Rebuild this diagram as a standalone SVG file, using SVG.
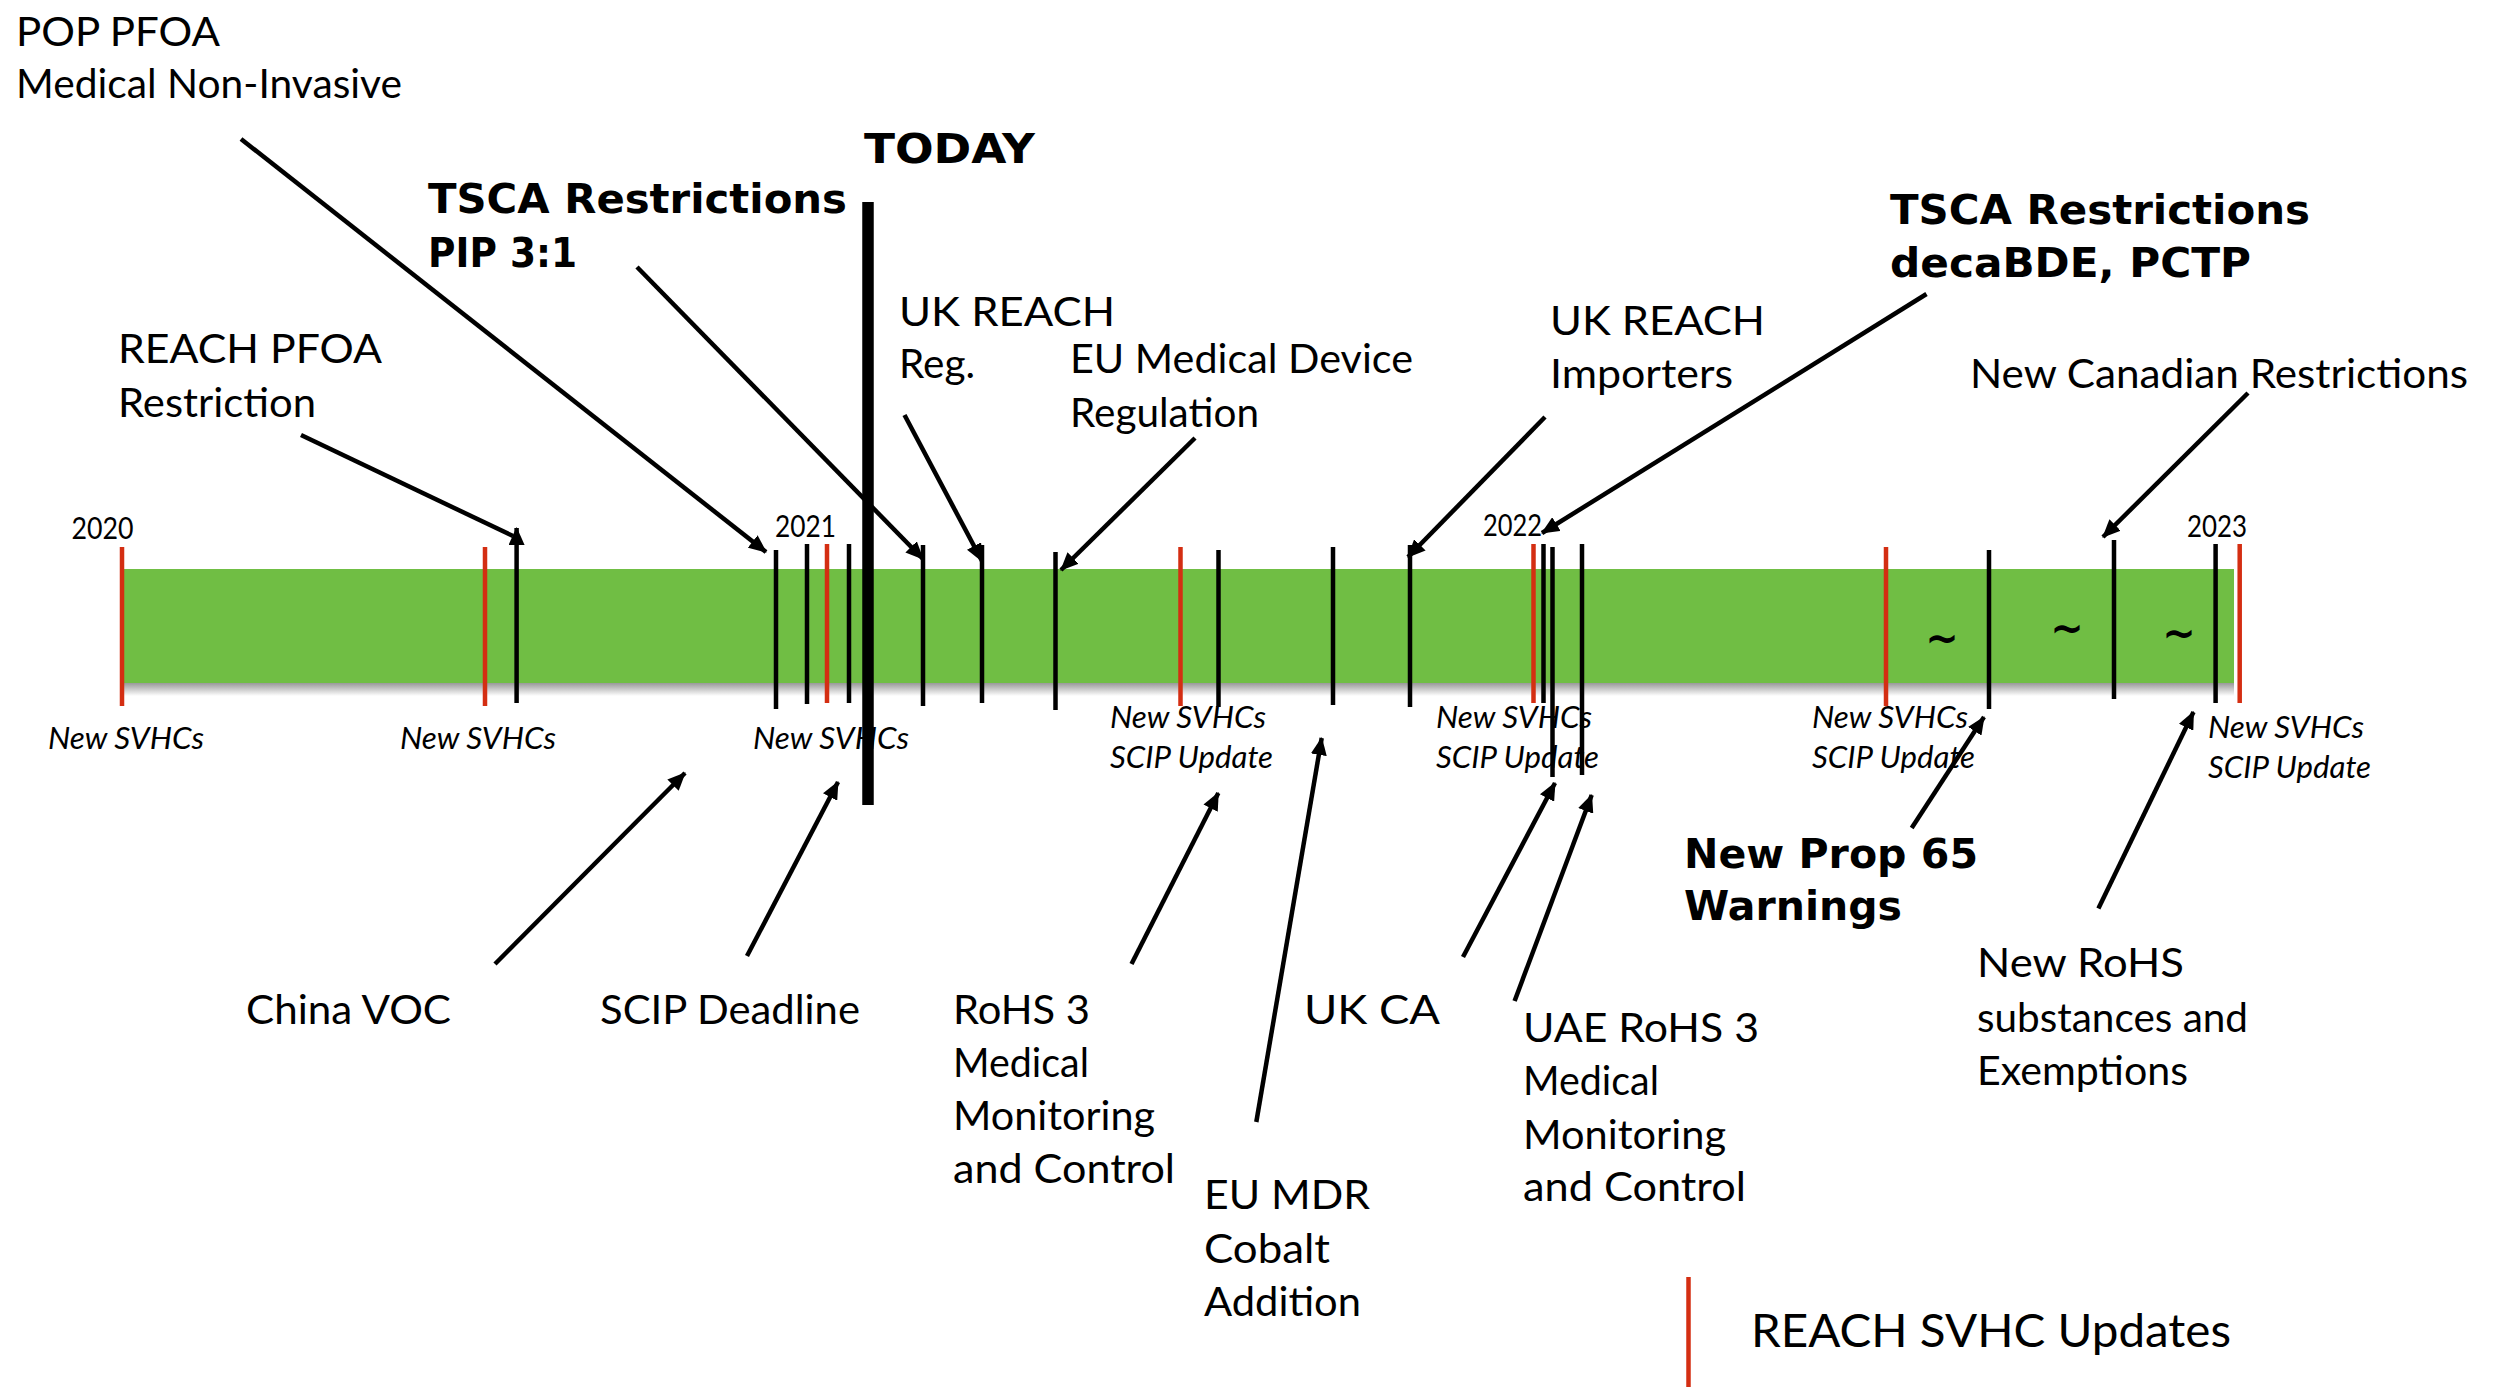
<svg xmlns="http://www.w3.org/2000/svg" width="2498" height="1387" viewBox="0 0 2498 1387">
<defs>
<style>
.lbl{font-family:Lato,'Liberation Sans',sans-serif;font-size:41px;fill:#000}
.bold{font-family:'DejaVu Sans','Liberation Sans',sans-serif;font-weight:bold;font-size:40px;fill:#000}
.yr{font-family:Lato,'Liberation Sans',sans-serif;font-size:30px;fill:#000}
.it{font-family:Lato,'Liberation Sans',sans-serif;font-style:italic;font-size:31px;fill:#000}
.tl{font-family:'DejaVu Sans','Liberation Sans',sans-serif;font-weight:bold;font-size:40px;fill:#000;text-anchor:middle}
.tick{stroke:#000;stroke-width:4.5;fill:none}
.red{stroke:#D42E12;stroke-width:4.5;fill:none}
.arr{stroke:#000;stroke-width:4.5;fill:none;marker-end:url(#ah)}
.ln{stroke:#000;stroke-width:4.5;fill:none}
</style>
<marker id="ah" markerUnits="userSpaceOnUse" markerWidth="18" markerHeight="16" refX="17" refY="8" orient="auto">
<path d="M0,0 L18,8 L0,16 z" fill="#000"/>
</marker>
<linearGradient id="shd" x1="0" y1="0" x2="0" y2="1">
<stop offset="0" stop-color="#777" stop-opacity="0.75"/>
<stop offset="1" stop-color="#777" stop-opacity="0"/>
</linearGradient>
</defs>
<rect width="2498" height="1387" fill="#fff"/>

<g id="timeline">
<rect x="124" y="683" width="2110" height="13" fill="url(#shd)"/>
<rect x="122" y="569" width="2112" height="114" fill="#70BE44"/>
<text class="tl" x="1942" y="652">~</text>
<text class="tl" x="2067" y="642">~</text>
<text class="tl" x="2179" y="647">~</text>
<text class="yr" x="71.5" y="539" textLength="62" lengthAdjust="spacingAndGlyphs">2020</text>
<text class="yr" x="775" y="537" textLength="61" lengthAdjust="spacingAndGlyphs">2021</text>
<text class="yr" x="1483" y="536" textLength="59" lengthAdjust="spacingAndGlyphs">2022</text>
<text class="yr" x="2187" y="537" textLength="60" lengthAdjust="spacingAndGlyphs">2023</text>
</g>

<g id="svhc-labels">
<text class="it" x="48" y="749" textLength="156" lengthAdjust="spacingAndGlyphs">New SVHCs</text>
<text class="it" x="400" y="749" textLength="156" lengthAdjust="spacingAndGlyphs">New SVHCs</text>
<text class="it" x="753" y="749" textLength="156" lengthAdjust="spacingAndGlyphs">New SVHCs</text>
<text class="it" x="1110" y="728" textLength="156" lengthAdjust="spacingAndGlyphs">New SVHCs</text>
<text class="it" x="1110" y="768" textLength="163" lengthAdjust="spacingAndGlyphs">SCIP Update</text>
<text class="it" x="1436" y="728" textLength="156" lengthAdjust="spacingAndGlyphs">New SVHCs</text>
<text class="it" x="1436" y="768" textLength="163" lengthAdjust="spacingAndGlyphs">SCIP Update</text>
<text class="it" x="1812" y="728" textLength="156" lengthAdjust="spacingAndGlyphs">New SVHCs</text>
<text class="it" x="1812" y="768" textLength="163" lengthAdjust="spacingAndGlyphs">SCIP Update</text>
<text class="it" x="2208" y="738" textLength="156" lengthAdjust="spacingAndGlyphs">New SVHCs</text>
<text class="it" x="2208" y="778" textLength="163" lengthAdjust="spacingAndGlyphs">SCIP Update</text>
</g>

<g id="node-pop-pfoa">
<text class="lbl" x="16" y="46" textLength="204" lengthAdjust="spacingAndGlyphs">POP PFOA</text>
<text class="lbl" x="16" y="98" textLength="386" lengthAdjust="spacingAndGlyphs">Medical Non-Invasive</text>
</g>
<g id="node-tsca-pip">
<text class="bold" x="428" y="213" textLength="419" lengthAdjust="spacingAndGlyphs">TSCA Restrictions</text>
<text class="bold" x="428" y="267" textLength="149" lengthAdjust="spacingAndGlyphs">PIP 3:1</text>
</g>
<g id="node-reach-pfoa">
<text class="lbl" x="118" y="363" textLength="264" lengthAdjust="spacingAndGlyphs">REACH PFOA</text>
<text class="lbl" x="118" y="417" textLength="198" lengthAdjust="spacingAndGlyphs">Restriction</text>
</g>
<g id="node-today">
<text class="bold" x="864" y="163" textLength="171" lengthAdjust="spacingAndGlyphs">TODAY</text>
</g>
<g id="node-uk-reach-reg">
<text class="lbl" x="899" y="326" textLength="216" lengthAdjust="spacingAndGlyphs">UK REACH</text>
<text class="lbl" x="899" y="378" textLength="76" lengthAdjust="spacingAndGlyphs">Reg.</text>
</g>
<g id="node-eu-mdr-reg">
<text class="lbl" x="1070" y="373" textLength="343" lengthAdjust="spacingAndGlyphs">EU Medical Device</text>
<text class="lbl" x="1070" y="427" textLength="189" lengthAdjust="spacingAndGlyphs">Regulation</text>
</g>
<g id="node-uk-reach-imp">
<text class="lbl" x="1550" y="335" textLength="215" lengthAdjust="spacingAndGlyphs">UK REACH</text>
<text class="lbl" x="1550" y="388" textLength="183" lengthAdjust="spacingAndGlyphs">Importers</text>
</g>
<g id="node-tsca-deca">
<text class="bold" x="1890" y="224" textLength="420" lengthAdjust="spacingAndGlyphs">TSCA Restrictions</text>
<text class="bold" x="1890" y="277" textLength="361" lengthAdjust="spacingAndGlyphs">decaBDE, PCTP</text>
</g>
<g id="node-canada">
<text class="lbl" x="1970" y="388" textLength="498" lengthAdjust="spacingAndGlyphs">New Canadian Restrictions</text>
</g>
<g id="node-china-voc">
<text class="lbl" x="246" y="1024" textLength="205" lengthAdjust="spacingAndGlyphs">China VOC</text>
</g>
<g id="node-scip-deadline">
<text class="lbl" x="600" y="1024" textLength="260" lengthAdjust="spacingAndGlyphs">SCIP Deadline</text>
</g>
<g id="node-rohs3">
<text class="lbl" x="953" y="1024" textLength="137" lengthAdjust="spacingAndGlyphs">RoHS 3</text>
<text class="lbl" x="953" y="1077" textLength="136" lengthAdjust="spacingAndGlyphs">Medical</text>
<text class="lbl" x="953" y="1130" textLength="202" lengthAdjust="spacingAndGlyphs">Monitoring</text>
<text class="lbl" x="953" y="1183" textLength="222" lengthAdjust="spacingAndGlyphs">and Control</text>
</g>
<g id="node-eu-mdr-cobalt">
<text class="lbl" x="1204" y="1209" textLength="166" lengthAdjust="spacingAndGlyphs">EU MDR</text>
<text class="lbl" x="1204" y="1263" textLength="126" lengthAdjust="spacingAndGlyphs">Cobalt</text>
<text class="lbl" x="1204" y="1316" textLength="157" lengthAdjust="spacingAndGlyphs">Addition</text>
</g>
<g id="node-uk-ca">
<text class="lbl" x="1304" y="1024" textLength="136" lengthAdjust="spacingAndGlyphs">UK CA</text>
</g>
<g id="node-uae">
<text class="lbl" x="1523" y="1042" textLength="236" lengthAdjust="spacingAndGlyphs">UAE RoHS 3</text>
<text class="lbl" x="1523" y="1095" textLength="136" lengthAdjust="spacingAndGlyphs">Medical</text>
<text class="lbl" x="1523" y="1149" textLength="203" lengthAdjust="spacingAndGlyphs">Monitoring</text>
<text class="lbl" x="1523" y="1201" textLength="223" lengthAdjust="spacingAndGlyphs">and Control</text>
</g>
<g id="node-prop65">
<text class="bold" x="1684" y="868" textLength="294" lengthAdjust="spacingAndGlyphs">New Prop 65</text>
<text class="bold" x="1684" y="920" textLength="218" lengthAdjust="spacingAndGlyphs">Warnings</text>
</g>
<g id="node-new-rohs">
<text class="lbl" x="1977" y="977" textLength="207" lengthAdjust="spacingAndGlyphs">New RoHS</text>
<text class="lbl" x="1977" y="1032" textLength="271" lengthAdjust="spacingAndGlyphs">substances and</text>
<text class="lbl" x="1977" y="1085" textLength="211" lengthAdjust="spacingAndGlyphs">Exemptions</text>
</g>
<g id="legend">
<line class="red" x1="1688.5" y1="1277" x2="1688.5" y2="1387"/>
<text class="lbl" x="1751" y="1347" style="font-size:47px" textLength="480" lengthAdjust="spacingAndGlyphs">REACH SVHC Updates</text>
</g>

<g id="ticks">
<line class="red" x1="122" y1="547" x2="122" y2="706"/>
<line class="red" x1="485" y1="547" x2="485" y2="706"/>
<line class="red" x1="827" y1="544" x2="827" y2="703"/>
<line class="red" x1="1180.5" y1="547" x2="1180.5" y2="706"/>
<line class="red" x1="1533.5" y1="544" x2="1533.5" y2="703"/>
<line class="red" x1="1886" y1="547" x2="1886" y2="706"/>
<line class="red" x1="2239.7" y1="544" x2="2239.7" y2="703"/>
<line class="tick" x1="776" y1="550" x2="776" y2="709"/>
<line class="tick" x1="807" y1="544" x2="807" y2="704"/>
<line class="tick" x1="849" y1="544" x2="849" y2="703"/>
<line class="tick" x1="923" y1="545" x2="923" y2="706"/>
<line class="tick" x1="982" y1="545" x2="982" y2="703"/>
<line class="tick" x1="1055.5" y1="552" x2="1055.5" y2="710"/>
<line class="tick" x1="1218.5" y1="550" x2="1218.5" y2="707"/>
<line class="tick" x1="1333" y1="547" x2="1333" y2="705"/>
<line class="tick" x1="1410" y1="545" x2="1410" y2="707"/>
<line class="tick" x1="1543.5" y1="544" x2="1543.5" y2="703"/>
<line class="tick" x1="1552.5" y1="547" x2="1552.5" y2="777"/>
<line class="tick" x1="1582" y1="544" x2="1582" y2="775"/>
<line class="tick" x1="1989" y1="550" x2="1989" y2="709"/>
<line class="tick" x1="2114" y1="540" x2="2114" y2="699"/>
<line class="tick" x1="2215.6" y1="544" x2="2215.6" y2="703"/>
<line class="arr" x1="516.6" y1="703" x2="516.6" y2="528"/>
<line id="today-line" x1="868" y1="202" x2="868" y2="805" stroke="#000" stroke-width="11.5"/>
</g>

<g id="connectors">
<line class="ln" x1="301" y1="435" x2="513" y2="536"/>
<line class="arr" x1="241" y1="139" x2="766" y2="552"/>
<line class="arr" x1="637" y1="267" x2="923" y2="559"/>
<line class="arr" x1="904.5" y1="415" x2="982" y2="561"/>
<line class="arr" x1="1195" y1="438" x2="1061" y2="570"/>
<line class="arr" x1="1545" y1="417" x2="1408" y2="557"/>
<line class="arr" x1="1926.5" y1="294" x2="1542" y2="533"/>
<line class="arr" x1="2248" y1="393" x2="2103" y2="537"/>
<line class="arr" x1="495" y1="964" x2="685" y2="773"/>
<line class="arr" x1="747" y1="956" x2="838" y2="782"/>
<line class="arr" x1="1131.5" y1="964" x2="1218.3" y2="793"/>
<line class="arr" x1="1256.3" y1="1122" x2="1321.7" y2="738"/>
<line class="arr" x1="1463" y1="957" x2="1555" y2="783"/>
<line class="arr" x1="1514.6" y1="1001" x2="1591.7" y2="795"/>
<line class="arr" x1="1911.7" y1="828" x2="1984" y2="717"/>
<line class="arr" x1="2098.4" y1="908.5" x2="2193.5" y2="712"/>
</g>
</svg>
